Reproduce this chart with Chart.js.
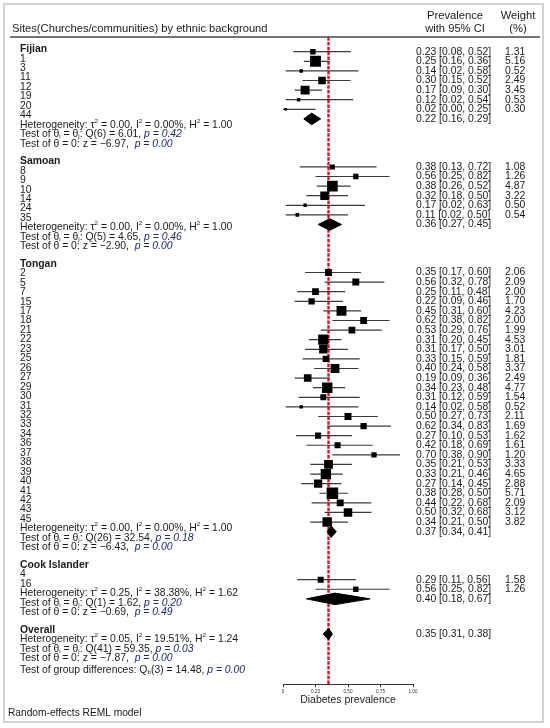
<!DOCTYPE html>
<html>
<head>
<meta charset="utf-8">
<title>Diabetes prevalence forest plot</title>
<script src="https://cdn.jsdelivr.net/npm/chart.js@4.4.1/dist/chart.umd.min.js"></script>
<style>
  html, body { margin: 0; padding: 0; background: #fff; }
  #wrap { width: 550px; height: 728px; }
</style>
</head>
<body>
<div id="wrap"><canvas id="forest" width="550" height="728"></canvas></div>
<script>
// ---- data ----
const groups = ["Fijian", "Samoan", "Tongan", "Cook Islander"];

const fijianSites = ["1", "3", "11", "12", "19", "20", "44"];
const fijianPrev = [0.23, 0.25, 0.14, 0.30, 0.17, 0.12, 0.02];
const fijianLow = [0.08, 0.16, 0.02, 0.15, 0.09, 0.02, 0.00];
const fijianHigh = [0.52, 0.36, 0.58, 0.52, 0.30, 0.54, 0.25];
const fijianWeight = [1.31, 5.16, 0.52, 2.49, 3.45, 0.53, 0.30];
const fijianPooled = [0.22, 0.16, 0.29];

const samoanSites = ["8", "9", "10", "14", "24", "35"];
const samoanPrev = [0.38, 0.56, 0.38, 0.32, 0.17, 0.11];
const samoanLow = [0.13, 0.25, 0.26, 0.18, 0.02, 0.02];
const samoanHigh = [0.72, 0.82, 0.52, 0.50, 0.63, 0.50];
const samoanWeight = [1.08, 1.26, 4.87, 3.22, 0.50, 0.54];
const samoanPooled = [0.36, 0.27, 0.45];

const tonganSites = ["2", "5", "7", "15", "17", "18", "21", "22", "23", "25", "26", "27", "29", "30",
  "31", "32", "33", "34", "36", "37", "38", "39", "40", "41", "42", "43", "45"];
const tonganPrev = [0.35, 0.56, 0.25, 0.22, 0.45, 0.62, 0.53, 0.31, 0.31, 0.33, 0.40, 0.19, 0.34, 0.31,
  0.14, 0.50, 0.62, 0.27, 0.42, 0.70, 0.35, 0.33, 0.27, 0.38, 0.44, 0.50, 0.34];
const tonganLow = [0.17, 0.32, 0.11, 0.09, 0.31, 0.38, 0.29, 0.20, 0.17, 0.15, 0.24, 0.09, 0.23, 0.12,
  0.02, 0.27, 0.34, 0.10, 0.18, 0.38, 0.21, 0.21, 0.14, 0.28, 0.22, 0.32, 0.21];
const tonganHigh = [0.60, 0.78, 0.48, 0.46, 0.60, 0.82, 0.76, 0.45, 0.50, 0.59, 0.58, 0.36, 0.48, 0.59,
  0.58, 0.73, 0.83, 0.53, 0.69, 0.90, 0.53, 0.46, 0.45, 0.50, 0.68, 0.68, 0.50];
const tonganWeight = [2.06, 2.09, 2.00, 1.70, 4.23, 2.00, 1.99, 4.53, 3.01, 1.81, 3.37, 2.49, 4.77, 1.54,
  0.52, 2.11, 1.69, 1.62, 1.61, 1.20, 3.33, 4.65, 2.88, 5.71, 2.09, 3.12, 3.82];
const tonganPooled = [0.37, 0.34, 0.41];

const cookSites = ["4", "16"];
const cookPrev = [0.29, 0.56];
const cookLow = [0.11, 0.25];
const cookHigh = [0.56, 0.82];
const cookWeight = [1.58, 1.26];
const cookPooled = [0.40, 0.18, 0.67];

const overallPooled = [0.35, 0.31, 0.38];

// heterogeneity statistics: Fijian, Samoan, Tongan, Cook Islander, Overall
const tauSq = [0.00, 0.00, 0.00, 0.25, 0.05];
const iSq = [0.00, 0.00, 0.00, 38.38, 19.51];
const hSq = [1.00, 1.00, 1.00, 1.62, 1.24];
const qDf = [6, 5, 26, 1, 41];
const qStat = [6.01, 4.65, 32.54, 1.62, 59.35];
const qP = [0.42, 0.46, 0.18, 0.20, 0.03];
const zStat = [-6.97, -2.90, -6.43, -0.69, -7.87];
const zP = [0.00, 0.00, 0.00, 0.49, 0.00];
const groupDiff = [3, 14.48, 0.00]; // df, Q_b, p

const xTicks = [0, 0.25, 0.50, 0.75, 1.00];

// ---- layout ----
const FONT = '"Liberation Sans", Arial, "DejaVu Sans", sans-serif';
const TEXT = "#1a1a1a";
const PCOLOR = "#1e2a66";
const Y_MIN = -1.5, Y_MAX = 65.9;
const valueStart = [0, 12, 23, 55];
const overallRow = 60.66;
const diamondHalf = 0.6;

const siteLists = [fijianSites, samoanSites, tonganSites, cookSites];
const prevLists = [fijianPrev, samoanPrev, tonganPrev, cookPrev];
const lowLists = [fijianLow, samoanLow, tonganLow, cookLow];
const highLists = [fijianHigh, samoanHigh, tonganHigh, cookHigh];
const weightLists = [fijianWeight, samoanWeight, tonganWeight, cookWeight];
const pooledLists = [fijianPooled, samoanPooled, tonganPooled, cookPooled];

const f2 = v => v.toFixed(2);
const fz = v => (v < 0 ? "\u2212" : "") + Math.abs(v).toFixed(2);
const ciText = (p, lo, hi) => `${f2(p)} [${f2(lo)}, ${f2(hi)}]`;

function diamond(pooled, row) {
  const [est, lo, hi] = pooled;
  return [
    {x: lo, y: row}, {x: est, y: row - diamondHalf}, {x: hi, y: row},
    {x: est, y: row + diamondHalf}, {x: lo, y: row}
  ];
}

const squarePts = [], ciPts = [], valueRows = [], diamonds = [];
groups.forEach((g, gi) => {
  prevLists[gi].forEach((p, k) => {
    const row = valueStart[gi] + k;
    const lo = lowLists[gi][k], hi = highLists[gi][k], w = weightLists[gi][k];
    squarePts.push({x: p, y: row, w: w});
    ciPts.push({x: lo, y: row}, {x: hi, y: row}, {x: null, y: null});
    valueRows.push({row: row, text: ciText(p, lo, hi), weight: f2(w)});
  });
  const dRow = valueStart[gi] + prevLists[gi].length;
  diamonds.push(diamond(pooledLists[gi], dRow));
  valueRows.push({row: dRow, text: ciText(...pooledLists[gi])});
});
diamonds.push(diamond(overallPooled, overallRow));
valueRows.push({row: overallRow, text: ciText(...overallPooled)});

// left-hand text lines (rich parts)
function statLines(i) {
  return [
    [["Heterogeneity: \u03c4"], ["2", "sup"], [` = ${f2(tauSq[i])}, I`], ["2", "sup"],
     [` = ${f2(iSq[i])}%, H`], ["2", "sup"], [` = ${f2(hSq[i])}`]],
    [["Test of \u03b8"], ["i", "sub"], [" = \u03b8"], ["j", "sub"],
     [`: Q(${qDf[i]}) = ${f2(qStat[i])}, `], [`p = ${f2(qP[i])}`, "i"]],
    [[`Test of \u03b8 = 0: z = ${fz(zStat[i])},  `], [`p = ${f2(zP[i])}`, "i"]]
  ];
}
const leftLines = [];
(function buildLeft() {
  const step = 0.984, gap = 1.833;
  let pos = -0.25;
  groups.forEach((g, gi) => {
    const lines = [[[g, "b"]], ...siteLists[gi].map(s => [[s]]), ...statLines(gi)];
    lines.forEach(l => { leftLines.push({row: pos, parts: l}); pos += step; });
    pos += gap - step;
  });
  const ov = [[["Overall", "b"]], ...statLines(4)];
  let last = pos;
  ov.forEach(l => { leftLines.push({row: pos, parts: l}); last = pos; pos += step; });
  leftLines.push({row: last + 1.24, parts: [["Test of group differences: Q"], ["b", "sub"],
    [`(${groupDiff[0]}) = ${f2(groupDiff[1])}, `], [`p = ${f2(groupDiff[2])}`, "i"]]});
})();

function drawRich(ctx, x, y, parts, size) {
  let cx = x;
  for (const [text, style] of parts) {
    let fs = size, dy = 0, pre = "", color = TEXT;
    if (style === "b") pre = "bold ";
    if (style === "i") { pre = "italic "; color = PCOLOR; }
    if (style === "sup") { fs = size * 0.6; dy = -size * 0.36; }
    if (style === "sub") { fs = size * 0.6; dy = size * 0.22; }
    ctx.font = `${pre}${fs}px ${FONT}`;
    ctx.fillStyle = color;
    ctx.fillText(text, cx, y + dy);
    cx += ctx.measureText(text).width;
  }
}

const forestText = {
  id: "forestText",
  beforeDraw(chart) {
    const ctx = chart.ctx;
    ctx.save();
    ctx.fillStyle = "#fff";
    ctx.fillRect(0, 0, chart.width, chart.height);
    ctx.restore();
  },
  afterDraw(chart) {
    const ctx = chart.ctx;
    const ys = chart.scales.y;
    ctx.save();
    // frame
    ctx.strokeStyle = "#c4c4c4";
    ctx.lineWidth = 1.5;
    ctx.strokeRect(4, 4, 539, 718);
    // header
    ctx.textBaseline = "middle";
    ctx.fillStyle = TEXT;
    ctx.font = `11.2px ${FONT}`;
    ctx.textAlign = "left";
    ctx.fillText("Sites(Churches/communities) by ethnic background", 12, 29);
    ctx.textAlign = "center";
    ctx.fillText("Prevalence", 455, 16);
    ctx.fillText("with 95% CI", 455, 29);
    ctx.fillText("Weight", 518, 16);
    ctx.fillText("(%)", 518, 29);
    ctx.strokeStyle = "#444";
    ctx.lineWidth = 1.5;
    ctx.beginPath();
    ctx.moveTo(10, 37);
    ctx.lineTo(540, 37);
    ctx.stroke();
    // left labels
    ctx.textAlign = "left";
    leftLines.forEach(l => drawRich(ctx, 20, ys.getPixelForValue(l.row), l.parts, 10.4));
    // right columns
    ctx.font = `10.4px ${FONT}`;
    ctx.fillStyle = TEXT;
    valueRows.forEach(v => {
      const y = ys.getPixelForValue(v.row);
      ctx.fillText(v.text, 416, y);
      if (v.weight) ctx.fillText(v.weight, 505, y);
    });
    ctx.font = `10.2px ${FONT}`;
    ctx.fillText("Random-effects REML model", 8, 713);
    ctx.restore();
  }
};

new Chart(document.getElementById("forest"), {
  type: "scatter",
  data: {
    datasets: [
      {
        label: "Sites",
        data: squarePts,
        pointStyle: "rect",
        pointRadius: c => 3.4 * Math.sqrt(c.raw.w),
        pointHoverRadius: c => 3.4 * Math.sqrt(c.raw.w),
        backgroundColor: "#000",
        borderWidth: 0
      },
      ...diamonds.map((d, i) => ({
        label: "Pooled " + i,
        data: d,
        showLine: true,
        fill: "shape",
        backgroundColor: "#000",
        borderColor: "#000",
        borderWidth: 1,
        pointRadius: 0,
        tension: 0
      })),
      {
        label: "95% CI",
        data: ciPts,
        showLine: true,
        spanGaps: false,
        borderColor: "#3a3a3a",
        borderWidth: 1.2,
        pointRadius: 0
      },
      {
        label: "Overall",
        data: [{x: overallPooled[0], y: Y_MIN}, {x: overallPooled[0], y: Y_MAX}],
        showLine: true,
        borderColor: "#d3122b",
        borderWidth: 2.4,
        borderDash: [3.5, 1.3],
        pointRadius: 0
      }
    ]
  },
  options: {
    responsive: false,
    animation: false,
    layout: { padding: { left: 283, right: 137, top: 37.3, bottom: 19.7 } },
    plugins: { legend: { display: false }, tooltip: { enabled: false } },
    scales: {
      x: {
        type: "linear",
        min: 0,
        max: 1,
        afterBuildTicks: s => { s.ticks = xTicks.map(v => ({value: v})); },
        afterFit: s => { s.height = 24; },
        ticks: {
          callback: v => (v === 0 ? "0" : v.toFixed(2)),
          font: { size: 4.6, family: FONT },
          color: "#333",
          padding: 1.5,
          maxRotation: 0,
          autoSkip: false
        },
        grid: { drawOnChartArea: false, drawTicks: true, tickLength: 3, color: "#333", lineWidth: 1 },
        border: { display: true, color: "#333", width: 1 },
        title: {
          display: true,
          text: "Diabetes prevalence",
          font: { size: 10.5, family: FONT },
          color: "#222",
          padding: { top: 0, bottom: 1.7 }
        }
      },
      y: { type: "linear", reverse: true, min: Y_MIN, max: Y_MAX, display: false }
    }
  },
  plugins: [forestText]
});
</script>
</body>
</html>
